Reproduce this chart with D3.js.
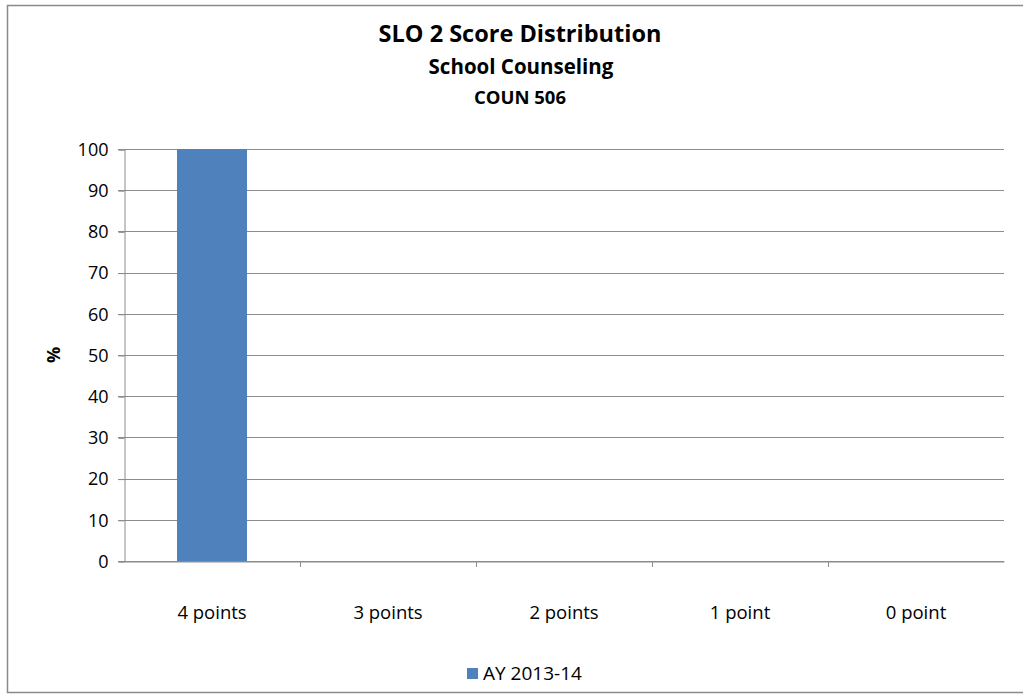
<!DOCTYPE html>
<html lang="en">
<head>
<meta charset="UTF-8">
<title>SLO 2 Score Distribution</title>
<script src="https://d3js.org/d3.v7.min.js"></script>
<style>
    body { margin: 0; background: #fff; }
    text { font-family: "Open Sans", "Liberation Sans", sans-serif; fill: #000; }
    .title { font-weight: bold; text-anchor: middle; }
    .axis text { font-size: 18px; }
    .grid line { stroke: #8c8c8c; stroke-width: 1; }
</style>
</head>
<body>
<svg width="1023" height="696"></svg>
<script>
    // chart data
    var categories = ["4 points", "3 points", "2 points", "1 point", "0 point"];
    var values = [100, 0, 0, 0, 0];
    var seriesName = "AY 2013-14";
    var yTicks = [0, 10, 20, 30, 40, 50, 60, 70, 80, 90, 100];

    var svg = d3.select("svg");
    var plotLeft = 124, plotRight = 1004, plotTop = 149, plotBottom = 561;

    // outer chart border
    svg.append("rect")
        .attr("x", 7.5).attr("y", 5.5)
        .attr("width", 1030).attr("height", 687)
        .attr("fill", "#fff")
        .attr("stroke", "#8a8a8a")
        .attr("stroke-width", 1.5);

    var x = d3.scaleBand().domain(categories).range([plotLeft, plotRight]);
    var y = d3.scaleLinear().domain([0, 100]).range([plotBottom, plotTop]);

    // horizontal gridlines
    svg.append("g").attr("class", "grid")
        .selectAll("line")
        .data(yTicks)
        .enter().append("line")
        .attr("x1", plotLeft - 6).attr("x2", plotRight)
        .attr("y1", function(d) { return Math.round(y(d)) + 0.5; })
        .attr("y2", function(d) { return Math.round(y(d)) + 0.5; });

    // y axis
    var yAxis = svg.append("g").attr("class", "axis")
        .attr("transform", "translate(" + (plotLeft + 0.5) + ",0.5)")
        .call(d3.axisLeft(y).tickValues(yTicks).tickSize(6).tickPadding(10));
    yAxis.select(".domain").attr("stroke", "#8c8c8c");
    yAxis.selectAll(".tick line").attr("stroke", "#8c8c8c");

    // x axis
    var xAxis = svg.append("g").attr("class", "axis")
        .attr("transform", "translate(0," + (plotBottom + 0.5) + ")")
        .call(d3.axisBottom(x).tickSize(0).tickPadding(44));
    xAxis.select(".domain").attr("stroke", "#8c8c8c");
    xAxis.selectAll("text").style("font-size", "18.5px");

    // category separator ticks
    svg.append("g")
        .selectAll("line")
        .data(categories.slice(1))
        .enter().append("line")
        .attr("x1", function(d) { return Math.round(x(d)) + 0.5; })
        .attr("x2", function(d) { return Math.round(x(d)) + 0.5; })
        .attr("y1", plotBottom).attr("y2", plotBottom + 6)
        .attr("stroke", "#8c8c8c");

    // bars
    var barW = 70;
    svg.append("g")
        .selectAll("rect")
        .data(values)
        .enter().append("rect")
        .attr("x", function(d, i) { return x(categories[i]) + x.bandwidth() / 2 - barW / 2; })
        .attr("y", function(d) { return y(d); })
        .attr("width", barW)
        .attr("height", function(d) { return plotBottom - y(d); })
        .attr("fill", "#4f81bd");

    // titles
    svg.append("text").attr("class", "title")
        .attr("x", 520).attr("y", 42).style("font-size", "23.5px")
        .text("SLO 2 Score Distribution");
    svg.append("text").attr("class", "title")
        .attr("x", 521).attr("y", 74).style("font-size", "20.5px")
        .text("School Counseling");
    svg.append("text").attr("class", "title")
        .attr("x", 520).attr("y", 104).style("font-size", "18.5px")
        .text("COUN 506");

    // y axis title
    svg.append("text")
        .attr("transform", "translate(60,355) rotate(-90)")
        .attr("text-anchor", "middle")
        .style("font-size", "18px").style("font-weight", "bold")
        .text("%");

    // legend
    svg.append("rect")
        .attr("x", 467).attr("y", 668).attr("width", 11).attr("height", 11)
        .attr("fill", "#4f81bd");
    svg.append("text")
        .attr("x", 483).attr("y", 680)
        .style("font-size", "19px")
        .text(seriesName);
</script>
</body>
</html>
